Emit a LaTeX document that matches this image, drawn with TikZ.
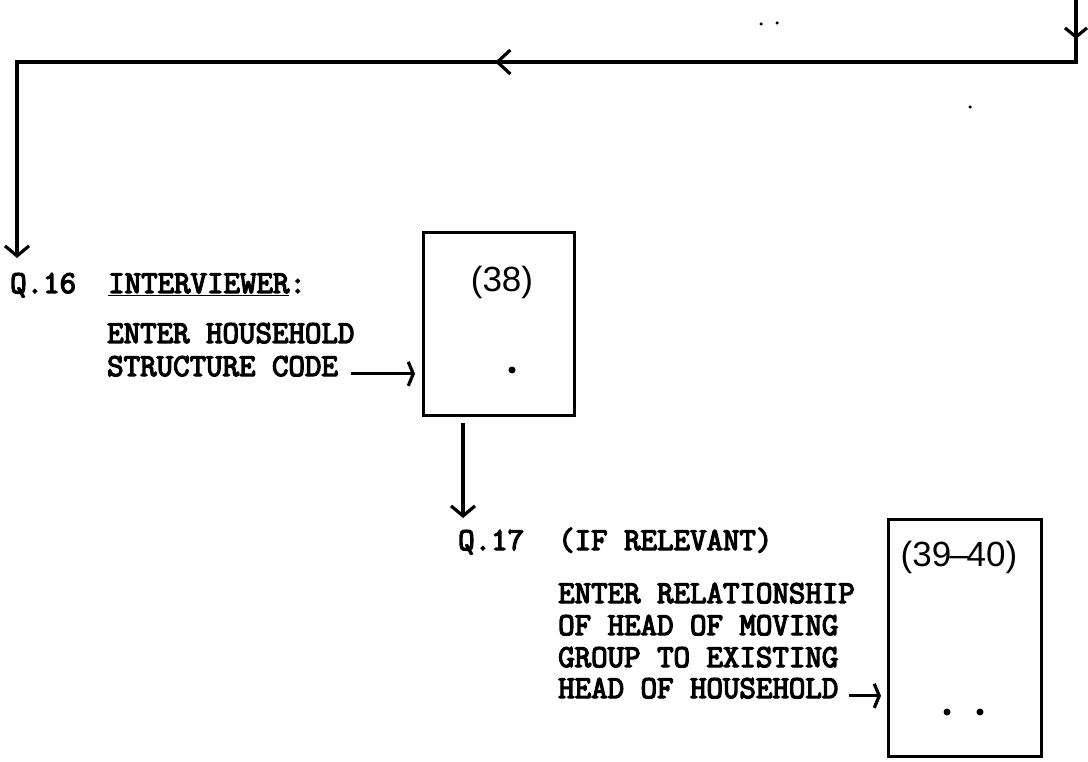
\documentclass[tikz,border=0pt]{standalone}
\usepackage{fontspec}
\newfontfamily\typew{Latin Modern Mono}[FakeBold=4]
\newfontfamily\stampf{Liberation Sans}
\usetikzlibrary{arrows.meta,calc}
\begin{document}
\begin{tikzpicture}[x=1pt,y=-1pt,
  tw/.style={inner sep=0pt, anchor=base west, font={\typew\fontsize{32}{36}\selectfont}},
  stamp/.style={inner sep=0pt, font={\stampf\fontsize{35}{38}\selectfont}},
  ln/.style={line width=3.2pt, line join=miter},
  boxn/.style={draw, line width=3.4pt, inner sep=0pt, anchor=north west},
  dotn/.style={circle, fill, inner sep=0pt, minimum size=7pt},
  speck/.style={circle, fill, inner sep=0pt, minimum size=3.5pt},
  barb/.style={-{Straight Barb[length=10pt,width=24pt]}},
  bartip/.style={-{Straight Barb[length=5pt,width=24pt]}}]
\useasboundingbox (0,0) rectangle (1088,762);

% top connector
\coordinate (tr) at (1076,0);
\coordinate (cr) at (1076,62);
\coordinate (cl) at (17,62);
\coordinate (bl) at (17,258);
\coordinate (ma0) at (1076,15);
\coordinate (ma1) at (1076,39);
\coordinate (mb0) at (530,62);
\coordinate (mb1) at (495,62);
\draw[ln, barb] (tr) -- (cr) -- (cl) -- (bl);
\draw[ln, -{Straight Barb[length=9pt,width=22pt]}] (ma0) -- (ma1);
\draw[ln, -{Straight Barb[length=13pt,width=24pt]}] (mb0) -- (mb1);

% specks
\node[speck] (s1) at (777,23) {};
\node[speck] (s2) at (761,24) {};
\node[speck] (s3) at (970,107) {};

% Q.16
\node[tw] (q16) at (10,293) {Q.16};
\node[tw] (intv) at (108,293) {\underline{INTERVIEWER}:};
\node[tw] (eh) at (107,343) {ENTER HOUSEHOLD};
\node[tw] (sc) at (107,376) {STRUCTURE CODE};

\node[boxn, minimum width=151pt, minimum height=183pt] (box1) at (422,231) {};
\node[stamp] (n38) at (502,282) {(38)};
\node[dotn] (dot1) at (512,370) {};

\draw[ln, bartip] ($(sc.mid east)+(13,0)$) -- ($(sc.mid east -| box1.west)+(-7,0)$);

% down arrow
\coordinate (d0) at (463,423);
\coordinate (d1) at (463,518);
\draw[ln, barb] (d0) -- (d1);

% Q.17
\node[tw] (q17) at (458,550) {Q.17};
\node[tw] (ifr) at (558,550) {(IF RELEVANT)};
\node[tw] (r1) at (558,603) {ENTER RELATIONSHIP};
\node[tw] (r2) at (558,635) {OF HEAD OF MOVING};
\node[tw] (r3) at (558,667) {GROUP TO EXISTING};
\node[tw] (r4) at (558,698) {HEAD OF HOUSEHOLD};

\node[boxn, minimum width=153pt, minimum height=237pt] (box2) at (887,518) {};
\node[stamp] (n3940) at (959,557) {(39\kern-2pt–\kern-2pt40)};
\node[dotn] (dot2) at (947,712) {};
\node[dotn] (dot3) at (980,712) {};

\draw[ln, bartip] ($(r4.mid east)+(10,0)$) -- ($(r4.mid east -| box2.west)+(-6,0)$);
\end{tikzpicture}
\end{document}
